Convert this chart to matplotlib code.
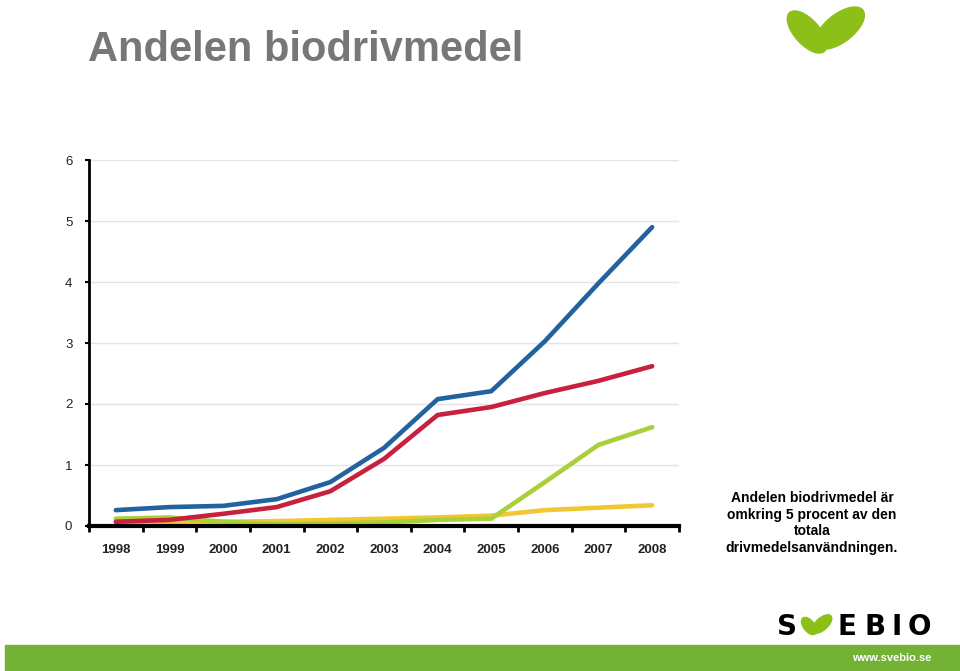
import matplotlib.pyplot as plt
from matplotlib.patches import Ellipse, Rectangle

years = ['1998', '1999', '2000', '2001', '2002', '2003', '2004', '2005', '2006', '2007', '2008']
blue = [0.26, 0.31, 0.33, 0.44, 0.72, 1.28, 2.08, 2.21, 3.03, 3.98, 4.90]
red = [0.07, 0.10, 0.20, 0.31, 0.57, 1.10, 1.82, 1.95, 2.18, 2.38, 2.62]
green = [0.12, 0.14, 0.07, 0.03, 0.04, 0.06, 0.10, 0.12, 0.72, 1.33, 1.62]
yellow = [0.05, 0.06, 0.07, 0.08, 0.10, 0.12, 0.14, 0.17, 0.26, 0.30, 0.34]
yticks = [0, 1, 2, 3, 4, 5, 6]

W, H = 960, 671
fig = plt.figure(figsize=(9.6, 6.71), dpi=100)
plt.rcParams['font.family'] = ['Liberation Sans', 'DejaVu Sans']

# chart
ax = fig.add_axes([89 / W, (H - 526) / H, (679 - 89) / W, (526 - 160) / H])
x = list(range(len(years)))
ax.plot(x, yellow, color='#f2c832', lw=3.3, solid_capstyle='round', zorder=3)
ax.plot(x, green, color='#a9cf3a', lw=3.3, solid_capstyle='round', zorder=4)
ax.plot(x, red, color='#c8203f', lw=3.3, solid_capstyle='round', zorder=5)
ax.plot(x, blue, color='#22629f', lw=3.3, solid_capstyle='round', zorder=6)
ax.set_xlim(-0.5, len(years) - 0.5)
ax.set_ylim(0, 6)
ax.set_yticks(yticks)
ax.set_yticklabels([str(v) for v in yticks], fontsize=9.5, color='#222222')
ax.set_xticks(x)
ax.set_xticklabels(years, fontsize=9.5, color='#222222', fontweight='bold')
ax.set_xticks([i - 0.5 for i in range(len(years) + 1)], minor=True)
ax.tick_params(axis='x', which='major', length=0, pad=13)
ax.tick_params(axis='x', which='minor', length=4, width=2, direction='out', color='black')
ax.tick_params(axis='y', length=3, width=1.5, pad=9)
ax.grid(axis='y', color='#e4e4e4', lw=1)
ax.set_axisbelow(True)
for s in ['top', 'right']:
    ax.spines[s].set_visible(False)
ax.spines['left'].set_linewidth(2)
ax.spines['bottom'].set_linewidth(3)
ax.spines['bottom'].set_zorder(10)

# overlay in pixel coords
ov = fig.add_axes([0, 0, 1, 1], zorder=-1)
ov.set_xlim(0, W)
ov.set_ylim(H, 0)
ov.axis('off')

fig.text(88 / W, 1 - 50 / H, 'Andelen biodrivmedel', fontsize=30, fontweight='bold',
         color='#777777', ha='left', va='center')

fig.text(812 / W, 1 - 523 / H,
         'Andelen biodrivmedel är\nomkring 5 procent av den\ntotala\ndrivmedelsanvändningen.',
         fontsize=10, fontweight='bold', color='black', ha='center', va='center',
         linespacing=1.27)

# leaf logo top right
leaf = '#8cc019'
ov.add_patch(Ellipse((807, 32), 25, 52, angle=-42, color=leaf))
ov.add_patch(Ellipse((840, 28), 28, 58, angle=52, color=leaf))

# green bar at bottom
ov.add_patch(Rectangle((5, 645), 955, 25, color='#74b236'))
ov.text(931, 658, 'www.svebio.se', fontsize=8, fontweight='bold', color='white',
        ha='right', va='center')

# SVEBIO logo
ov.text(787, 627, 'S', fontsize=20, fontweight='heavy', family='DejaVu Sans',
        color='black', ha='center', va='center')
ov.add_patch(Ellipse((809, 626), 11, 20, angle=-38, color=leaf))
ov.add_patch(Ellipse((822, 624), 12, 24, angle=48, color=leaf))
for cx, ch in zip([847, 875, 897, 919], 'EBIO'):
    ov.text(cx, 627, ch, fontsize=20, fontweight='heavy', family='DejaVu Sans',
            color='black', ha='center', va='center')

fig.savefig('out.png', dpi=100)
